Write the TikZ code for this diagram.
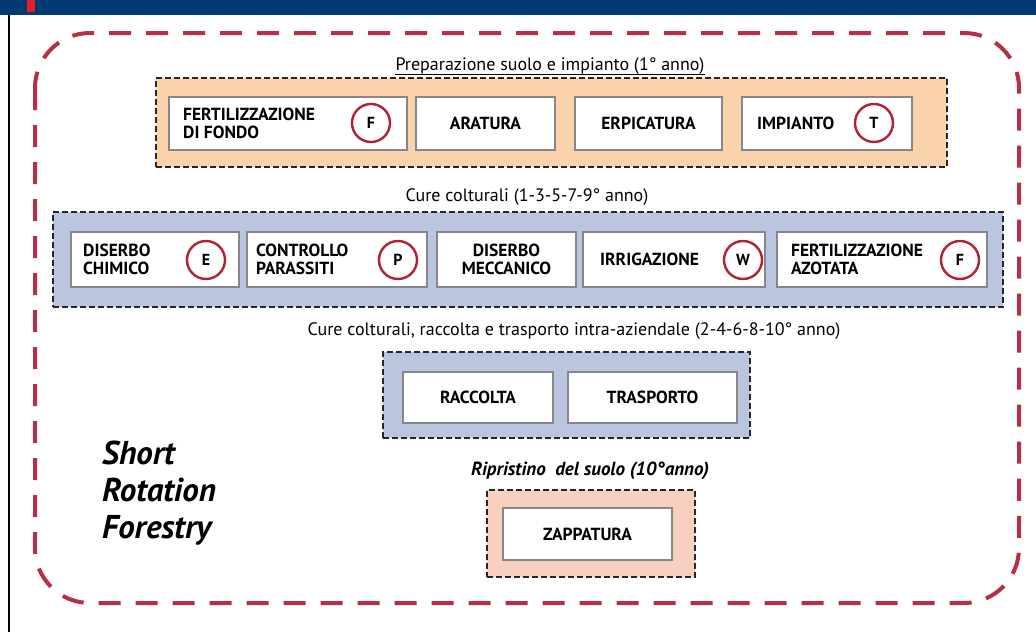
\documentclass[tikz,border=0pt]{standalone}
\usepackage{fontspec}
\setmainfont{PT Sans}
\definecolor{navy}{RGB}{0,60,113}
\definecolor{topred}{RGB}{230,30,40}
\definecolor{outerred}{RGB}{185,45,70}
\definecolor{badgered}{RGB}{178,34,52}
\definecolor{itemgray}{RGB}{135,135,135}
\definecolor{orangefill}{RGB}{250,211,172}
\definecolor{bluefill}{RGB}{186,197,224}
\definecolor{pinkfill}{RGB}{248,208,192}
\begin{document}
\begin{tikzpicture}[x=1pt,y=-1pt,
  group/.style={draw=black!85, line width=1.8pt, dash pattern=on 6pt off 3pt, inner sep=0},
  item/.style={draw=itemgray, fill=white, line width=1.3pt, inner sep=0},
  lbl/.style={font=\bfseries\fontsize{17.5}{18.5}\selectfont, align=left, inner sep=0, anchor=west},
  clbl/.style={font=\bfseries\fontsize{17.5}{18.5}\selectfont, align=center, inner sep=0},
  badge/.style={circle, draw=badgered, line width=2.4pt, fill=white, minimum size=38pt, inner sep=0, font=\bfseries\fontsize{16}{16}\selectfont},
  heading/.style={font=\fontsize{18}{18}\selectfont, inner sep=0, anchor=base}
]
\useasboundingbox (0,0) rectangle (1036,632);
% frame
\fill[navy] (0,0) rectangle (1036,15);
\fill[topred] (27,0) rectangle (35,12);
\draw[black, line width=2pt] (9,15) -- (9,632);
\draw[outerred, line width=4pt, dash pattern=on 22pt off 15pt, rounded corners=55pt] (35,33) rectangle (1019,603);

% group 1
\node[heading] (t1) at (550,70) {Preparazione suolo e impianto (1° anno)};
\draw[line width=0.8pt] ([yshift=-4pt]t1.base west) -- ([yshift=-4pt]t1.base east);
\node[group, fill=orangefill, minimum width=791pt, minimum height=89pt] (g1) at (551.5,122.5) {};
\node[item, minimum width=238pt, minimum height=53pt] (ff) at (288,123.5) {};
\node[lbl] (ffl) at (183,123.5) {FERTILIZZAZIONE\\DI FONDO};
\node[badge] (ffb) at (371,123) {F};
\node[item, minimum width=139pt, minimum height=53pt] (ar) at (485.5,123.5) {};
\node[clbl] (arl) at (ar) {ARATURA};
\node[item, minimum width=147pt, minimum height=53pt] (er) at (648.5,123.5) {};
\node[clbl] (erl) at (er) {ERPICATURA};
\node[item, minimum width=170pt, minimum height=53pt] (im) at (827,123.5) {};
\node[lbl] (iml) at (757,123.5) {IMPIANTO};
\node[badge] (imb) at (874,123) {T};

% group 2
\node[heading] (t2) at (527,201) {Cure colturali (1-3-5-7-9° anno)};
\node[group, fill=bluefill, minimum width=950pt, minimum height=95pt] (g2) at (528,259.5) {};
\node[item, minimum width=168pt, minimum height=55pt] (dc) at (155,259.5) {};
\node[lbl] (dcl) at (83,259.5) {DISERBO\\CHIMICO};
\node[badge] (dcb) at (206,260) {E};
\node[item, minimum width=180pt, minimum height=55pt] (cp) at (337,259.5) {};
\node[lbl] (cpl) at (256,259.5) {CONTROLLO\\PARASSITI};
\node[badge] (cpb) at (398,260) {P};
\node[item, minimum width=139pt, minimum height=55pt] (dm) at (506.5,259.5) {};
\node[clbl] (dml) at (dm) {DISERBO\\MECCANICO};
\node[item, minimum width=182pt, minimum height=55pt] (ir) at (674,259.5) {};
\node[lbl] (irl) at (600,259.5) {IRRIGAZIONE};
\node[badge] (irb) at (743,260) {W};
\node[item, minimum width=210pt, minimum height=55pt] (fa) at (882,259.5) {};
\node[lbl] (fal) at (791,259.5) {FERTILIZZAZIONE\\AZOTATA};
\node[badge] (fab) at (960,260) {F};

% group 3
\node[heading] (t3) at (574,335) {Cure colturali, raccolta e trasporto intra-aziendale (2-4-6-8-10° anno)};
\node[group, fill=bluefill, minimum width=367pt, minimum height=86pt] (g3) at (566.5,395) {};
\node[item, minimum width=150pt, minimum height=51pt] (rc) at (478,397.5) {};
\node[clbl] (rcl) at (rc) {RACCOLTA};
\node[item, minimum width=169pt, minimum height=51pt] (tr) at (652.5,397.5) {};
\node[clbl] (trl) at (tr) {TRASPORTO};

% group 4
\node[heading, font=\bfseries\itshape\fontsize{19}{19}\selectfont] (t4) at (590,475) {Ripristino\ \ del suolo (10°anno)};
\node[group, fill=pinkfill, minimum width=208pt, minimum height=87pt] (g4) at (591,533.5) {};
\node[item, minimum width=169pt, minimum height=52pt] (zp) at (587.5,534) {};
\node[clbl] (zpl) at (zp) {ZAPPATURA};

% title
\node[font=\bfseries\itshape\fontsize{33}{37}\selectfont, align=left, inner sep=0, anchor=base west] (srf) at (102,538) {Short\\Rotation\\Forestry};
\end{tikzpicture}
\end{document}
